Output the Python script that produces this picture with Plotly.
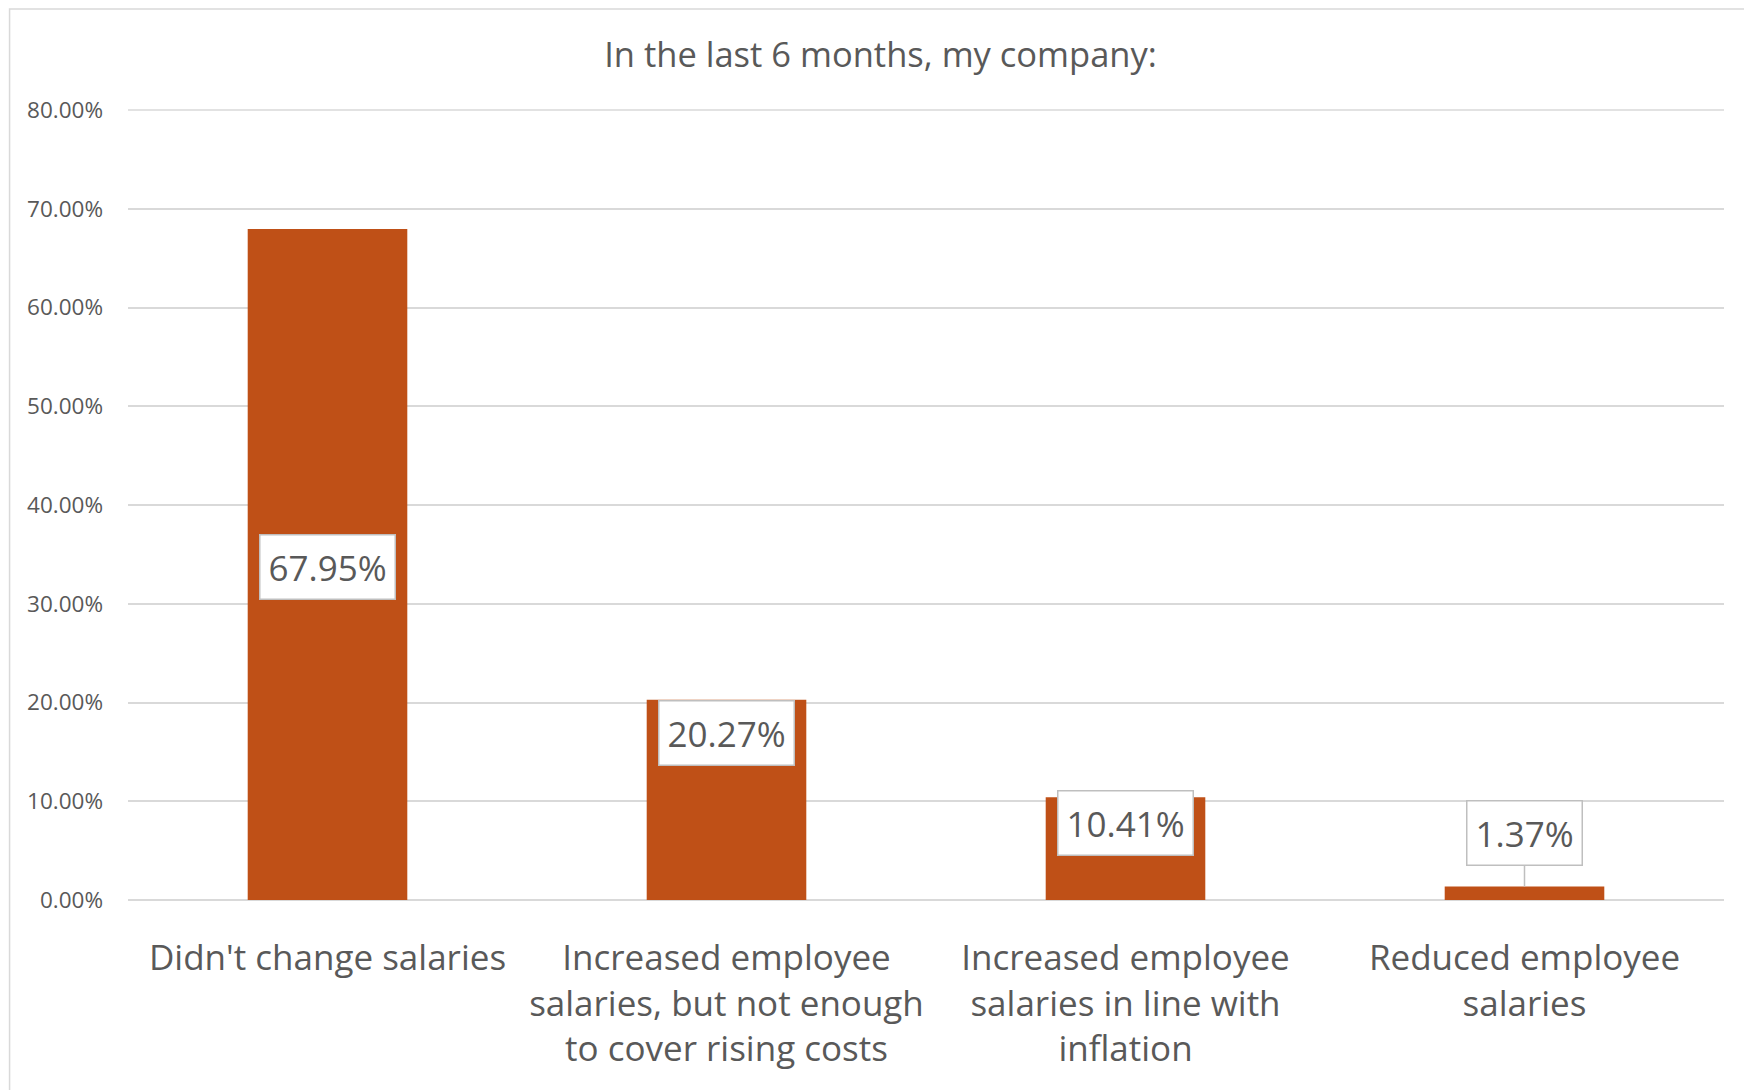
import plotly.graph_objects as go

# survey answers and share of respondents (%)
categories = [
    "Didn't change salaries",
    "Increased employee<br>salaries, but not enough<br>to cover rising costs",
    "Increased employee<br>salaries in line with<br>inflation",
    "Reduced employee<br>salaries",
]
values = [67.95, 20.27, 10.41, 1.37]
y_ticks = [0, 10, 20, 30, 40, 50, 60, 70, 80]

BAR_COLOR = "#BF5017"
TEXT_COLOR = "#595959"
GRID_COLOR = "#D9D9D9"
FONT = "Open Sans, Noto Sans, sans-serif"

# pixel offsets of the value boxes from the bar tops (Excel-like placement)
label_offsets = [338, 33, 26, -53]
show_leader = [False, False, False, True]

fig = go.Figure(go.Bar(
    x=categories,
    y=values,
    marker=dict(color=BAR_COLOR, line=dict(width=0)),
    hoverinfo="x+y",
))

for cat, val, off, lead in zip(categories, values, label_offsets, show_leader):
    fig.add_annotation(
        x=cat, y=val,
        text=f"{val:.2f}%",
        showarrow=True,
        arrowhead=0,
        arrowwidth=1.5,
        arrowcolor="#BFBFBF" if lead else "rgba(0,0,0,0)",
        ax=0, ay=off,
        font=dict(size=35, color=TEXT_COLOR, family=FONT),
        bgcolor="white",
        bordercolor="#BFBFBF",
        borderwidth=1.5,
        borderpad=8,
    )

# top gridline sits on the plot edge, plotly skips it, so draw it
fig.add_shape(
    type="line", xref="paper", yref="paper",
    x0=0, x1=1, y0=1, y1=1,
    line=dict(color=GRID_COLOR, width=1.5), layer="below",
)

# light frame around the chart area
fig.add_shape(
    type="rect", xref="paper", yref="paper",
    x0=-0.0742, x1=1.2, y0=-0.5, y1=1.128,
    line=dict(color="#D9D9D9", width=1.5),
    fillcolor="rgba(0,0,0,0)", layer="below",
)

fig.update_layout(
    title=dict(
        text="In the last 6 months, my company:",
        x=0.498, xanchor="center",
        y=1 - 47 / 1090, yanchor="middle",
        font=dict(size=34.5, color=TEXT_COLOR, family=FONT),
    ),
    width=1752,
    height=1090,
    margin=dict(l=120, r=36, t=102, b=198),
    paper_bgcolor="white",
    plot_bgcolor="white",
    bargap=0.6,
    showlegend=False,
    font=dict(family=FONT, color=TEXT_COLOR),
    xaxis=dict(
        tickfont=dict(size=35, color=TEXT_COLOR),
        showgrid=False,
        showline=False,
        ticks="",
        ticklabelstandoff=34,
    ),
    yaxis=dict(
        range=[0, 80],
        tickvals=y_ticks,
        ticktext=[f"{t:.2f}%" for t in y_ticks],
        tickfont=dict(size=22.5, color=TEXT_COLOR),
        showgrid=True,
        gridcolor=GRID_COLOR,
        gridwidth=1.5,
        zeroline=True,
        zerolinecolor=GRID_COLOR,
        zerolinewidth=1.5,
        ticks="",
        ticklabelstandoff=24,
    ),
)

fig.write_html("out.html")
